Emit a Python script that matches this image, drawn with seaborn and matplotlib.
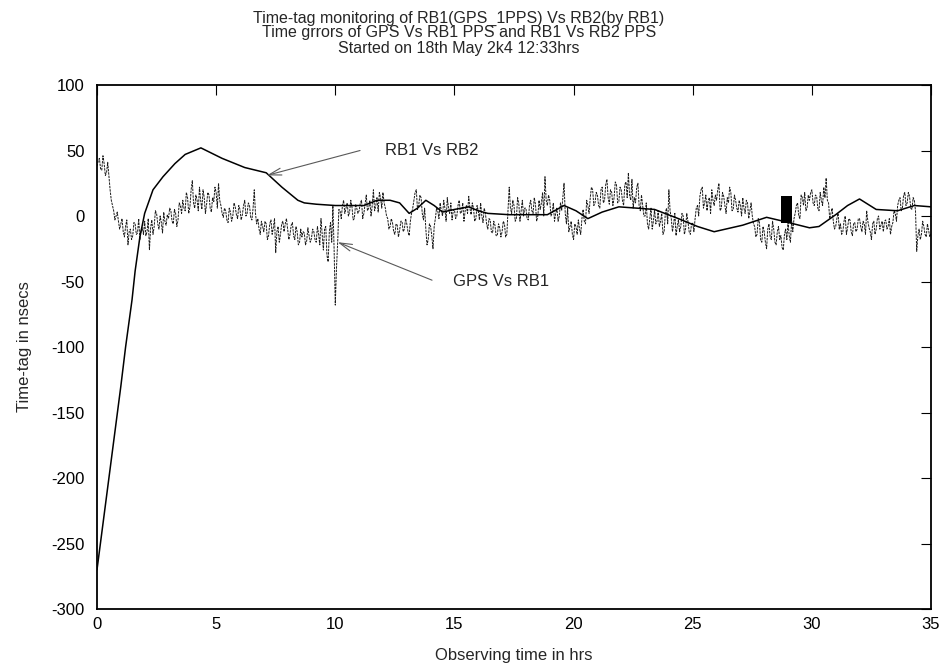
import numpy as np
import pandas as pd
import matplotlib
matplotlib.use("Agg")
import matplotlib.pyplot as plt
import seaborn as sns

# ---- data ----
rb_t = [0, 0.5, 1.0, 1.2, 1.47, 1.6, 1.8, 2.0, 2.35, 2.77, 3.27, 3.7, 4.36,
        5.25, 6.2, 7.1, 7.76, 8.43, 8.7, 9.2, 10.0, 10.5, 11.2, 11.75, 12.3, 12.7,
        13.1, 13.45, 13.8, 14.15, 14.5, 15.0, 15.6, 16.0, 16.4, 17.3, 18.9, 19.2,
        19.6, 20.1, 20.6, 21.2, 21.9, 23.4, 24.4, 25.2,
        25.9, 27.1, 28.1, 28.8, 29.9, 30.3, 31.0, 31.5, 32.0, 32.7, 33.6, 34.3, 35.0]
rb_v = [-270, -200, -130, -100, -64, -42, -16, 2, 20, 30, 40, 47, 52,
        44, 37, 33, 22, 12, 10, 9, 8, 8, 8, 12, 12, 10,
        2, 6, 12, 8, 3, 5, 7, 4, 2, 1, 1, 4,
        8, 4, -2, 3, 7, 5, -2, -8,
        -12, -7, -1, -4, -9, -8, 1, 8, 13, 5, 4, 8, 7]

gps_step = 0.1
gps_v = [
    38, 44, 35, 40, 33, 30, 12, 4, 0, -4,
    -6, -12, -8, -22, -10, -15, -6, -13, -18, -9,
    -4, -12, -26, -3, -8, 2, -10, -5, 3, -7,
    -2, 4, -6, 2, -3, 8, 12, 4, 14, 7,
    27, 6, 12, 22, 5, 14, 9, 16, 3, 11,
    18, 25, 8, -1, 4, -5, 3, 0, 7, -2,
    5, 1, 12, 2, 8, -3, 20, -6, -10, -4,
    -12, -6, -15, -3, -9, -28, -8, -14, -4, -6,
    -10, -14, -5, -18, -12, -20, -16, -13, -19, -15,
    -17, -12, -20, -14, -2, -26, -8, -35, -5, 8,
    -68, -20, 4, 8, 2, 10, 3, 7, -2, 6,
    4, 12, 2, 16, 6, 0, 20, 8, 3, 14,
    18, 6, -2, -8, -5, -14, -7, -11, -4, -10,
    -6, -15, 2, 12, 20, 8, 14, -3, -10, -18,
    -8, -25, -2, 4, 10, 0, 6, 14, 2, -3,
    5, 0, 12, 3, -4, 8, 15, 1, 6, -2,
    4, 10, -5, 2, -10, -3, -13, -7, -15, -9,
    -12, -6, -14, 22, 2, 8, -2, 10, 4, 0,
    6, -3, 12, 2, 9, 0, 5, 18, 30, 8,
    12, 2, -4, 6, 0, 4, 25, -6, -12, -4,
    -18, -8, -3, -14, 5, -6, 8, 14, 20, 10,
    16, 6, 22, 12, 28, 9, 18, 14, 24, 11,
    20, 8, 26, 33, 12, 6, 10, 25, 4, 8,
    0, -6, -2, -10, 5, -4, -8, 2, -12, 6,
    20, -2, -6, -15, -3, -8, 0, -10, -4, -14,
    -5, -2, 8, 15, 22, 10, 4, 14, 20, 8,
    12, 25, 6, 15, 2, 10, 18, 5, 12, 3,
    8, 14, 2, 10, 4, 0, -8, -14, -5, -20,
    -12, -25, -6, -18, -10, -22, -8, -15, -26, -10,
    -5, -20, -12, 2, 10, -2, 14, 18, 6, 12,
    20, 8, 15, 4, 12, 22, 29, 10, 2, -4,
    -8, 2, -6, -12, 0, -9, -3, -15, -5, -10,
    -2, -12, -6, 4, -9, -18, -4, -10, 0, -7,
    -12, -3, -8, -14, -5, 2, 8, 14, 6, 18,
    10, 15, 5, 12, -27, -10, -14, -8, -16, -11,
    -13,
]
# readings half-way between the samples above (t + 0.05 h)
gps_mid_v = [
    42, 36, 46, 31, 41, 20, 8, -3, 3, -10,
    -2, -16, -3, -12, -18, -5, -14, -2, -11, -14,
    -15, -2, -9, -14, 4, -6, 0, -13, -4, 1,
    6, -4, 5, -8, 10, 2, 6, 18, 2, 20,
    10, 16, 4, 12, 20, 2, 18, 6, 14, 22,
    6, 12, 2, 6, -3, 6, -4, 10, 1, 8,
    -3, 8, 0, 10, -1, 6, 2, -2, -14, -8,
    -4, -18, -6, -14, -2, -12, -20, -6, -12, -2,
    -18, -7, -15, -8, -22, -10, -12, -22, -9, -20,
    -10, -18, -8, -22, -14, -10, -30, -12, -20, -25,
    -40, 5, -2, 12, 6, 0, 12, -3, 9, 2,
    10, -2, 9, 4, 12, 8, 4, 14, 18, 6,
    10, 0, -10, -2, -12, -6, -16, -4, -12, -2,
    -12, -4, 6, 18, 5, 16, 2, 6, -22, -6,
    -15, -8, 6, -2, 4, 12, -4, 6, 10, 4,
    -2, 8, 2, 10, 4, 2, 6, 10, -4, 8,
    -3, 0, 6, -6, -2, -12, -4, -15, -6, -16,
    -4, -16, 5, 6, 12, -4, 14, -4, 12, 6,
    -2, 8, 4, 14, -4, 12, 10, 0, 12, 16,
    0, 10, 2, -4, 10, 14, 2, 6, -8, -14,
    -6, -14, -10, -2, -4, 12, 2, 22, 8, 18,
    8, 20, 10, 24, 14, 20, 8, 26, 10, 22,
    12, 24, 14, 16, 28, 14, 22, 8, 16, 0,
    10, -10, 6, -4, -6, 4, -4, -14, 2, -6,
    4, -12, 2, -8, -12, 2, -14, 2, -12, -6,
    -12, 6, 0, 20, 6, 16, 12, 2, 12, 16,
    20, 4, 18, 8, 14, 22, 4, 16, 6, 12,
    0, 6, 12, -2, 10, -6, -16, -2, -18, -8,
    -20, -10, -16, -4, -20, -12, -18, -24, -14, -18,
    -15, -4, -2, 8, 0, 16, 8, 4, 16, 18,
    10, 16, 6, 18, 8, 14, 12, -2, 6, -10,
    -2, -10, -14, -4, -14, -2, -12, -6, -12, -2,
    -8, -4, -14, -4, -12, -6, -14, -2, -10, -4,
    -4, -10, -2, -8, 4, -4, 12, 4, 16, 8,
    18, 6, 14, 4, -15, -18, -4, -14, -6, -16,
]
gps_t = [round(i * gps_step, 2) for i in range(len(gps_v))]
gps_mid_t = [round(i * gps_step + 0.05, 2) for i in range(len(gps_mid_v))]

burst_t = [28.72, 29.18]
burst_top = [15, 15]
burst_bot = [-5, -5]

title_lines = ["Time-tag monitoring of RB1(GPS_1PPS) Vs RB2(by RB1)",
               "Time grrors of GPS Vs RB1 PPS and RB1 Vs RB2 PPS",
               "Started on 18th May 2k4 12:33hrs"]
xticks = [0, 5, 10, 15, 20, 25, 30, 35]
yticks = [-300, -250, -200, -150, -100, -50, 0, 50, 100]

# ---- plot ----
sns.set_style("white")
plt.rcParams['font.family'] = ['Liberation Sans', 'DejaVu Sans']
plt.rcParams['axes.unicode_minus'] = False

fig = plt.figure(figsize=(9.49, 6.68), dpi=100)
ax = fig.add_axes([97/949, 1-609/668, (931-97)/949, (609-85)/668])

df_gps = pd.DataFrame({"t": gps_t + gps_mid_t, "v": gps_v + gps_mid_v}).sort_values("t")
df_rb = pd.DataFrame({"t": rb_t, "v": rb_v})
sns.lineplot(data=df_gps, x="t", y="v", ax=ax, color="#1a1a1a", lw=0.7,
             linestyle=(0, (2.5, 1)), estimator=None, sort=False)
sns.lineplot(data=df_rb, x="t", y="v", ax=ax, color="black", lw=1.1,
             estimator=None, sort=False)
ax.fill_between(burst_t, burst_bot, burst_top, color="black", lw=0)

ax.set_xlim(0, 35)
ax.set_ylim(-300, 100)
ax.set_xticks(xticks)
ax.set_yticks(yticks)
ax.tick_params(direction="in", top=True, right=True, length=7, width=0.8,
               labelsize=12, colors="black")
ax.tick_params(axis="y", pad=9)
ax.tick_params(axis="x", pad=6)
for s in ax.spines.values():
    s.set_linewidth(1.3)
    s.set_color("black")

ax.set_xlabel("Observing time in hrs", fontsize=12, labelpad=11)
ax.set_ylabel("Time-tag in nsecs", fontsize=12, labelpad=14)

arrow = dict(arrowstyle="->,head_length=0.9,head_width=0.25", color="0.35", lw=0.8,
             shrinkA=0, shrinkB=0)
ax.annotate("", xy=(7.13, 31), xytext=(11.04, 50), arrowprops=arrow)
ax.text(12.1, 50, "RB1 Vs RB2", fontsize=12, va="center", ha="left")
ax.annotate("", xy=(10.1, -20), xytext=(14.06, -49), arrowprops=arrow)
ax.text(14.95, -50, "GPS Vs RB1", fontsize=12, va="center", ha="left")

for line, yy in zip(title_lines, [18, 33, 48]):
    fig.text(459/949, 1-yy/668, line, ha="center", va="center", fontsize=11.5,
             family=['Liberation Sans', 'DejaVu Sans'])

fig.savefig("out.png", dpi=100)
